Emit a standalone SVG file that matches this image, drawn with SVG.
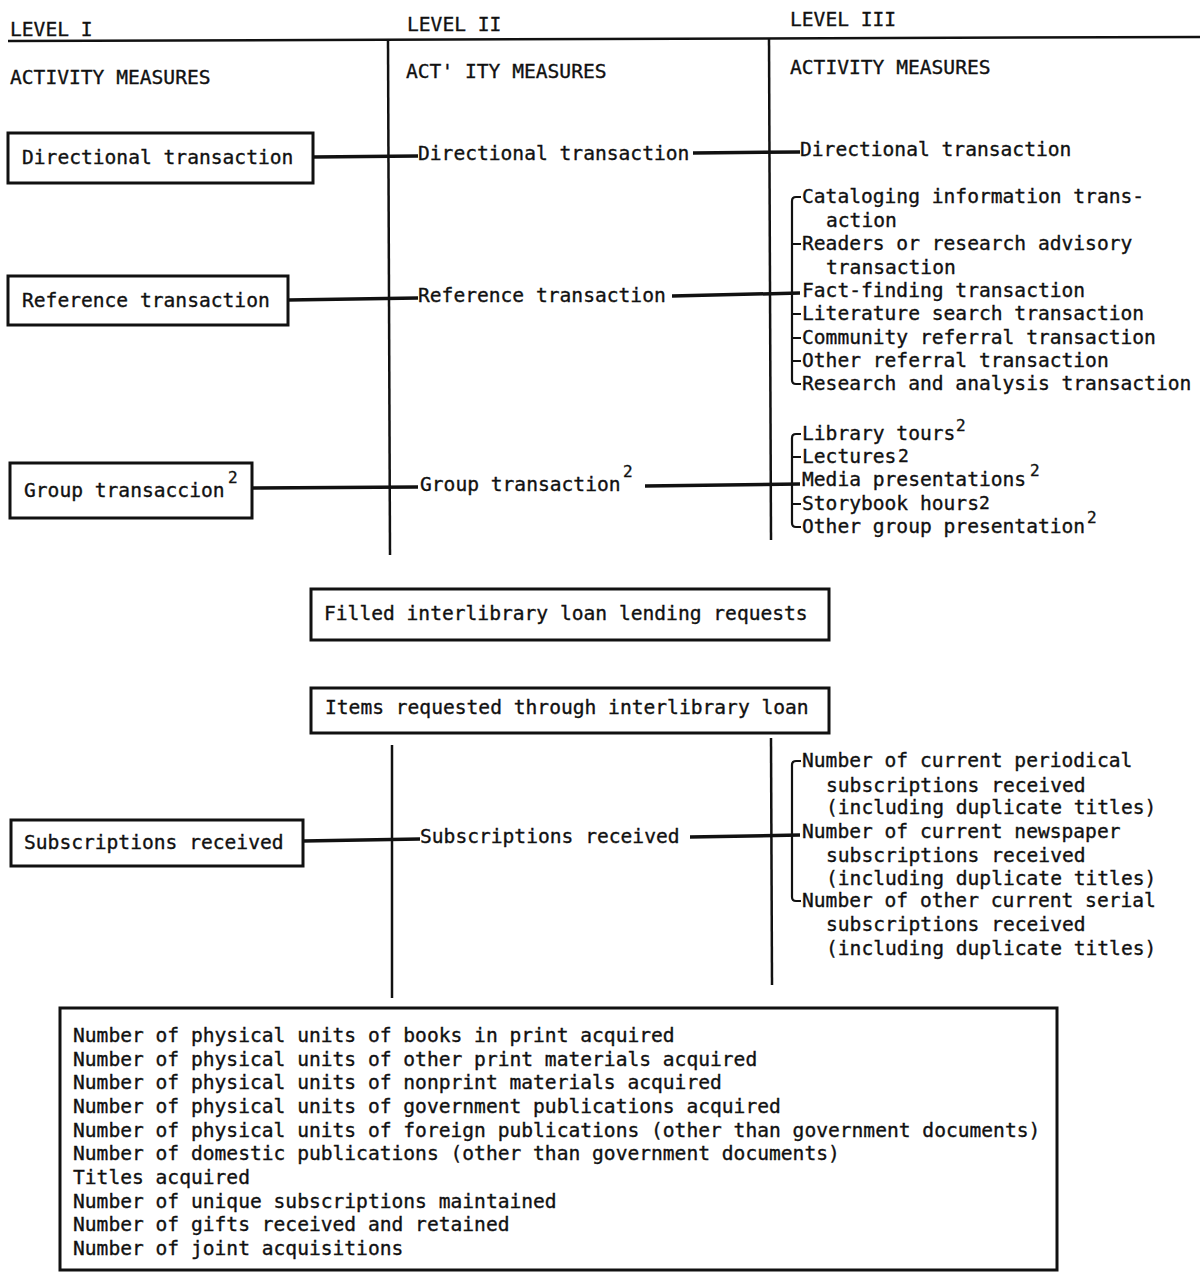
<svg xmlns="http://www.w3.org/2000/svg" width="1201" height="1274" viewBox="0 0 1201 1274">
<style>
text{font-family:"DejaVu Sans Mono","Liberation Mono",monospace;font-size:19.6px;fill:#111;stroke:#111;stroke-width:0.35;}
.sup{font-size:16px;}
.sup2{font-size:18px;}
.box{fill:#fff;stroke:#111;stroke-width:3;}
.rule{stroke:#111;stroke-width:2.5;fill:none;}
.con{stroke:#111;stroke-width:3.5;fill:none;}
.br{stroke:#111;stroke-width:2.2;fill:none;}
</style>
<rect width="1201" height="1274" fill="#fff"/>
<g id="header">
<text x="10" y="36">LEVEL I</text>
<text x="407" y="31">LEVEL II</text>
<text x="790" y="26">LEVEL III</text>
<line class="rule" x1="8" y1="41" x2="1200" y2="37"/>
<text x="10" y="84">ACTIVITY MEASURES</text>
<text x="406" y="78">ACT' ITY MEASURES</text>
<text x="790" y="74">ACTIVITY MEASURES</text>
<line class="rule" x1="388" y1="40" x2="390" y2="555"/>
<line class="rule" x1="769" y1="38" x2="771" y2="540"/>
<line class="rule" x1="392" y1="745" x2="392" y2="998"/>
<line class="rule" x1="771" y1="738" x2="772" y2="985"/>
</g>
<g id="connectors">
<line class="con" x1="313" y1="157" x2="418" y2="156"/>
<line class="con" x1="693" y1="153" x2="800" y2="152"/>
<line class="con" x1="288" y1="300" x2="418" y2="298"/>
<line class="con" x1="672" y1="296" x2="800" y2="293"/>
<line class="con" x1="252" y1="488" x2="418" y2="487"/>
<line class="con" x1="645" y1="486" x2="800" y2="484"/>
<line class="con" x1="303" y1="841" x2="420" y2="839"/>
<line class="con" x1="690" y1="837" x2="800" y2="835"/>
<path class="br" d="M801,197 h-5 q-4,0 -4,4 V380 q0,4 4,4 h5 M792,244 h9 M792,314 h9 M792,338 h9 M792,361 h9"/>
<path class="br" d="M801,434 h-5 q-4,0 -4,4 V523 q0,4 4,4 h5 M792,457 h9 M792,504 h9"/>
<path class="br" d="M801,761 h-5 q-4,0 -4,4 V897 q0,4 4,4 h5"/>
</g>
<g id="n-dir1"><rect class="box" x="8" y="133" width="305" height="50"/><text x="22" y="164">Directional transaction</text></g>
<g id="n-dir2"><text x="418" y="160">Directional transaction</text></g>
<g id="n-dir3"><text x="800" y="156">Directional transaction</text></g>
<g id="n-ref1"><rect class="box" x="8" y="276" width="280" height="49"/><text x="22" y="307">Reference transaction</text></g>
<g id="n-ref2"><text x="418" y="302">Reference transaction</text></g>
<g id="n-ref3">
<text x="802" y="203">Cataloging information trans-</text>
<text x="826" y="227">action</text>
<text x="802" y="250">Readers or research advisory</text>
<text x="826" y="274">transaction</text>
<text x="802" y="297">Fact-finding transaction</text>
<text x="802" y="320">Literature search transaction</text>
<text x="802" y="344">Community referral transaction</text>
<text x="802" y="367">Other referral transaction</text>
<text x="802" y="390">Research and analysis transaction</text>
</g>
<g id="n-grp1"><rect class="box" x="10" y="463" width="242" height="55"/><text x="24" y="497">Group transaccion</text><text class="sup" x="228" y="483">2</text></g>
<g id="n-grp2"><text x="420" y="491">Group transaction</text><text class="sup" x="623" y="477">2</text></g>
<g id="n-grp3">
<text x="802" y="440">Library tours</text><text class="sup" x="956" y="431">2</text>
<text x="802" y="463">Lectures</text><text class="sup2" x="898" y="462">2</text>
<text x="802" y="486">Media presentations</text><text class="sup" x="1030" y="476">2</text>
<text x="802" y="510">Storybook hours</text><text class="sup2" x="979" y="509">2</text>
<text x="802" y="533">Other group presentation</text><text class="sup" x="1087" y="523">2</text>
</g>
<g id="n-filled"><rect class="box" x="311" y="589" width="518" height="51"/><text x="324" y="620">Filled interlibrary loan lending requests</text></g>
<g id="n-items"><rect class="box" x="311" y="688" width="518" height="45"/><text x="325" y="714">Items requested through interlibrary loan</text></g>
<g id="n-sub1"><rect class="box" x="11" y="820" width="292" height="46"/><text x="24" y="849">Subscriptions received</text></g>
<g id="n-sub2"><text x="420" y="843">Subscriptions received</text></g>
<g id="n-sub3">
<text x="802" y="767">Number of current periodical</text>
<text x="826" y="792">subscriptions received</text>
<text x="826" y="814">(including duplicate titles)</text>
<text x="802" y="838">Number of current newspaper</text>
<text x="826" y="862">subscriptions received</text>
<text x="826" y="885">(including duplicate titles)</text>
<text x="802" y="907">Number of other current serial</text>
<text x="826" y="931">subscriptions received</text>
<text x="826" y="955">(including duplicate titles)</text>
</g>
<g id="n-acq">
<rect class="box" x="60" y="1008" width="997" height="262"/>
<text x="73" y="1042">Number of physical units of books in print acquired</text>
<text x="73" y="1066">Number of physical units of other print materials acquired</text>
<text x="73" y="1089">Number of physical units of nonprint materials acquired</text>
<text x="73" y="1113">Number of physical units of government publications acquired</text>
<text x="73" y="1137">Number of physical units of foreign publications (other than government documents)</text>
<text x="73" y="1160">Number of domestic publications (other than government documents)</text>
<text x="73" y="1184">Titles acquired</text>
<text x="73" y="1208">Number of unique subscriptions maintained</text>
<text x="73" y="1231">Number of gifts received and retained</text>
<text x="73" y="1255">Number of joint acquisitions</text>
</g>
</svg>
